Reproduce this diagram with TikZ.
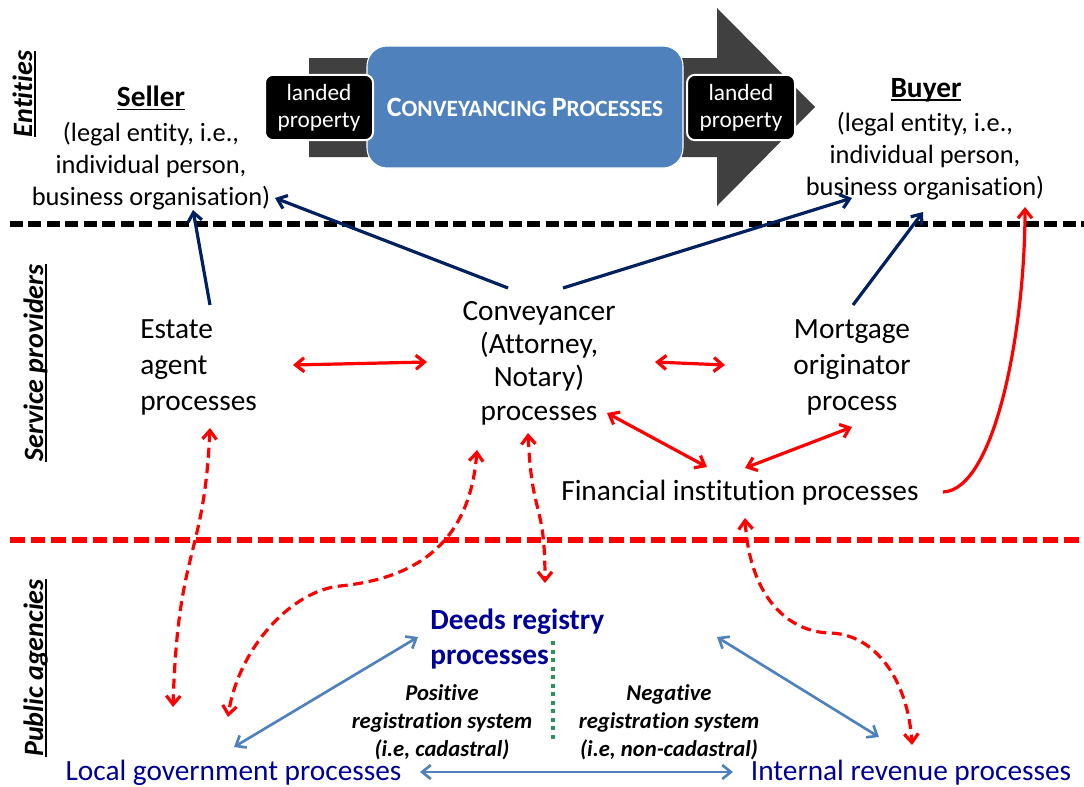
\documentclass[tikz,border=0pt]{standalone}
\usepackage{fontspec}
\setmainfont{Carlito}[Ligatures=NoCommon]
\usetikzlibrary{arrows.meta}

\definecolor{navyline}{RGB}{0,32,96}
\definecolor{agencyblue}{RGB}{0,0,153}
\definecolor{steelline}{RGB}{79,129,189}
\definecolor{boxblue}{RGB}{79,129,189}
\definecolor{bannergray}{RGB}{64,64,64}
\definecolor{dotgreen}{RGB}{38,150,90}

% underline at a fixed distance below the baseline
\newsavebox\ulinebox
\newcommand\ulinetext[1]{\sbox\ulinebox{#1}\leavevmode\rlap{\rule[-2.8pt]{\wd\ulinebox}{1.4pt}}\usebox\ulinebox}
% hand-made small capitals for the banner title
\newcommand\titlebig[1]{{\fontsize{21pt}{24pt}\selectfont #1}}
\newcommand\titlesmall[1]{{\fontsize{17.5pt}{24pt}\selectfont #1}}

\tikzset{
  entity/.style={align=center, inner sep=0pt, font=\fontsize{19.8pt}{24pt}\selectfont},
  entityhead/.style={inner sep=0pt, font=\fontsize{22pt}{26pt}\selectfont\bfseries},
  provider/.style={align=center, inner sep=0pt, font=\fontsize{22pt}{27pt}\selectfont},
  agency/.style={inner sep=0pt, text=agencyblue, font=\fontsize{22pt}{26.25pt}\selectfont},
  regsys/.style={align=center, inner sep=0pt, font=\fontsize{17pt}{21pt}\selectfont\bfseries\itshape},
  tier/.style={rotate=90, anchor=base, inner sep=0pt, font=\fontsize{21pt}{25pt}\selectfont\bfseries\itshape},
  property/.style={fill=black, draw=white, line width=1.5pt, rounded corners=6pt,
    minimum width=81pt, minimum height=49pt, align=center, text=white, inner sep=0pt,
    font=\fontsize{17.5pt}{20.25pt}\selectfont},
  process/.style={fill=boxblue, draw=white, line width=0.8pt, rounded corners=15pt,
    minimum width=237pt, minimum height=91.5pt, text=white, inner sep=0pt, font=\bfseries},
  divider/.style={line width=4pt, dash pattern=on 9.75pt off 4.1pt},
  navyarrow/.style={draw=navyline, line width=2.4pt, ->},
  redarrow/.style={draw=red, line width=2.4pt, <->},
  redlink/.style={draw=red, line width=2.4pt, ->},
  reddash/.style={redarrow, dash pattern=on 7.5pt off 4.2pt},
  bluearrow/.style={draw=steelline, line width=2pt, <->}
}

\begin{document}
\begin{tikzpicture}[x=0.75pt, y=-0.75pt, >={Straight Barb[length=6.5pt,width=10.5pt]}]
\useasboundingbox (0,0) rectangle (1084,786);

% tier boundaries
\draw[divider, black] (10,224) -- (1084,224);
\draw[divider, red, dash pattern=on 11pt off 4.5pt] (10,540) -- (1084,540);

% big transfer arrow behind the process box
\fill[bannergray] (309,58) -- (717,58) -- (717,8) -- (815,107) -- (717,206)
  -- (717,157) -- (309,157) -- cycle;
\node[process] (conveyancing) at (525,107)
  {\titlebig{C}\titlesmall{ONVEYANCING }\titlebig{P}\titlesmall{ROCESSES}};
\node[property] (propin) at (319,107.5) {landed\\property};
\node[property] (propout) at (741,107.5) {landed\\property};

% tier labels
\node[tier] (entities) at (32,94) {\ulinetext{Entities}};
\node[tier] (services) at (43,363) {\ulinetext{Service providers}};
\node[tier] (agencies) at (43,668) {\ulinetext{Public agencies}};

% entities
\node[entityhead, anchor=base] (sellerhead) at (151,106.7) {\ulinetext{Seller}};
\node[entity] (seller) at (151,166) {(legal entity, i.e.,\\individual person,\\business organisation)};
\node[entityhead, anchor=base] (buyerhead) at (926,97.5) {\ulinetext{Buyer}};
\node[entity] (buyer) at (925,156) {(legal entity, i.e.,\\individual person,\\business organisation)};

% service providers
\node[provider, align=left, anchor=west] (estate) at (140,367) {Estate\\agent\\processes};
\node[provider, font=\fontsize{22pt}{25pt}\selectfont] (conveyancer) at (539,363)
  {Conveyancer\\(Attorney,\\Notary)\\processes};
\node[provider] (mortgage) at (852,367) {Mortgage\\originator\\process};
\node[provider] (financial) at (740,493) {Financial institution processes};

% public agencies
\node[agency, align=left, anchor=west, font=\fontsize{22pt}{26.25pt}\selectfont\bfseries]
  (deeds) at (430,639) {Deeds registry\\processes};
\node[agency] (localgov) at (233.5,773) {Local government processes};
\node[agency] (revenue) at (911,773) {Internal revenue processes};
\node[regsys] (positive) at (442,722) {Positive\\registration system\\(i.e, cadastral)};
\node[regsys] (negative) at (669,722) {Negative\\registration system\\(i.e, non-cadastral)};
\draw[dotgreen, line width=3pt, dash pattern=on 3pt off 3.4pt] (553,641) -- (553,742);

% connector end points
\coordinate (estateUp) at (210,305);
\coordinate (sellerFromEstate) at (193,210);
\coordinate (convUpL) at (508,288);
\coordinate (sellerFromConv) at (275,198);
\coordinate (convUpR) at (563,288);
\coordinate (buyerFromConv) at (852,198);
\coordinate (mortUp) at (853,305);
\coordinate (buyerFromMort) at (923,212);
\coordinate (estateR) at (293,365);
\coordinate (convL) at (427,362);
\coordinate (convR) at (655,362);
\coordinate (mortL) at (725,365);
\coordinate (convLow) at (607,413);
\coordinate (finUpL) at (707,467);
\coordinate (finUpR) at (745,468);
\coordinate (mortLow) at (852,427);
\coordinate (finR) at (943,492);
\coordinate (buyerFromFin) at (1025,207);
\coordinate (estateDown) at (210,428);
\coordinate (localUpL) at (173,707);
\coordinate (convDownL) at (477,450);
\coordinate (localUpR) at (228,717);
\coordinate (convDownR) at (528,433);
\coordinate (deedsUp) at (545,583);
\coordinate (finDown) at (745,518);
\coordinate (revenueUp) at (912,745);
\coordinate (deedsL) at (418,637);
\coordinate (localTop) at (234,747);
\coordinate (deedsR) at (717,637);
\coordinate (revenueTop) at (879,737);
\coordinate (localR) at (420,772);
\coordinate (revenueL) at (733,772);

% services delivered to the parties
\draw[navyarrow] (estateUp) -- (sellerFromEstate);
\draw[navyarrow] (convUpL) -- (sellerFromConv);
\draw[navyarrow] (convUpR) -- (buyerFromConv);
\draw[navyarrow] (mortUp) -- (buyerFromMort);

% exchanges between service providers
\draw[redarrow] (estateR) -- (convL);
\draw[redarrow] (convR) -- (mortL);
\draw[redarrow] (convLow) -- (finUpL);
\draw[redarrow] (finUpR) -- (mortLow);
\draw[redlink] (finR) .. controls (995,490) and (1025,330) .. (buyerFromFin);

% exchanges with public agencies
\draw[reddash] (estateDown) .. controls (204,560) and (178,545) .. (localUpL);
\draw[reddash] (convDownL) .. controls (470,540) and (420,578) .. (340,586)
  .. controls (290,591) and (238,650) .. (localUpR);
\draw[reddash] (convDownR) .. controls (532,520) and (545,500) .. (deedsUp);
\draw[reddash] (finDown) .. controls (750,600) and (790,632) .. (830,633)
  .. controls (875,634) and (908,680) .. (revenueUp);

% exchanges among public agencies
\draw[bluearrow] (deedsL) -- (localTop);
\draw[bluearrow] (deedsR) -- (revenueTop);
\draw[bluearrow] (localR) -- (revenueL);
\end{tikzpicture}
\end{document}
